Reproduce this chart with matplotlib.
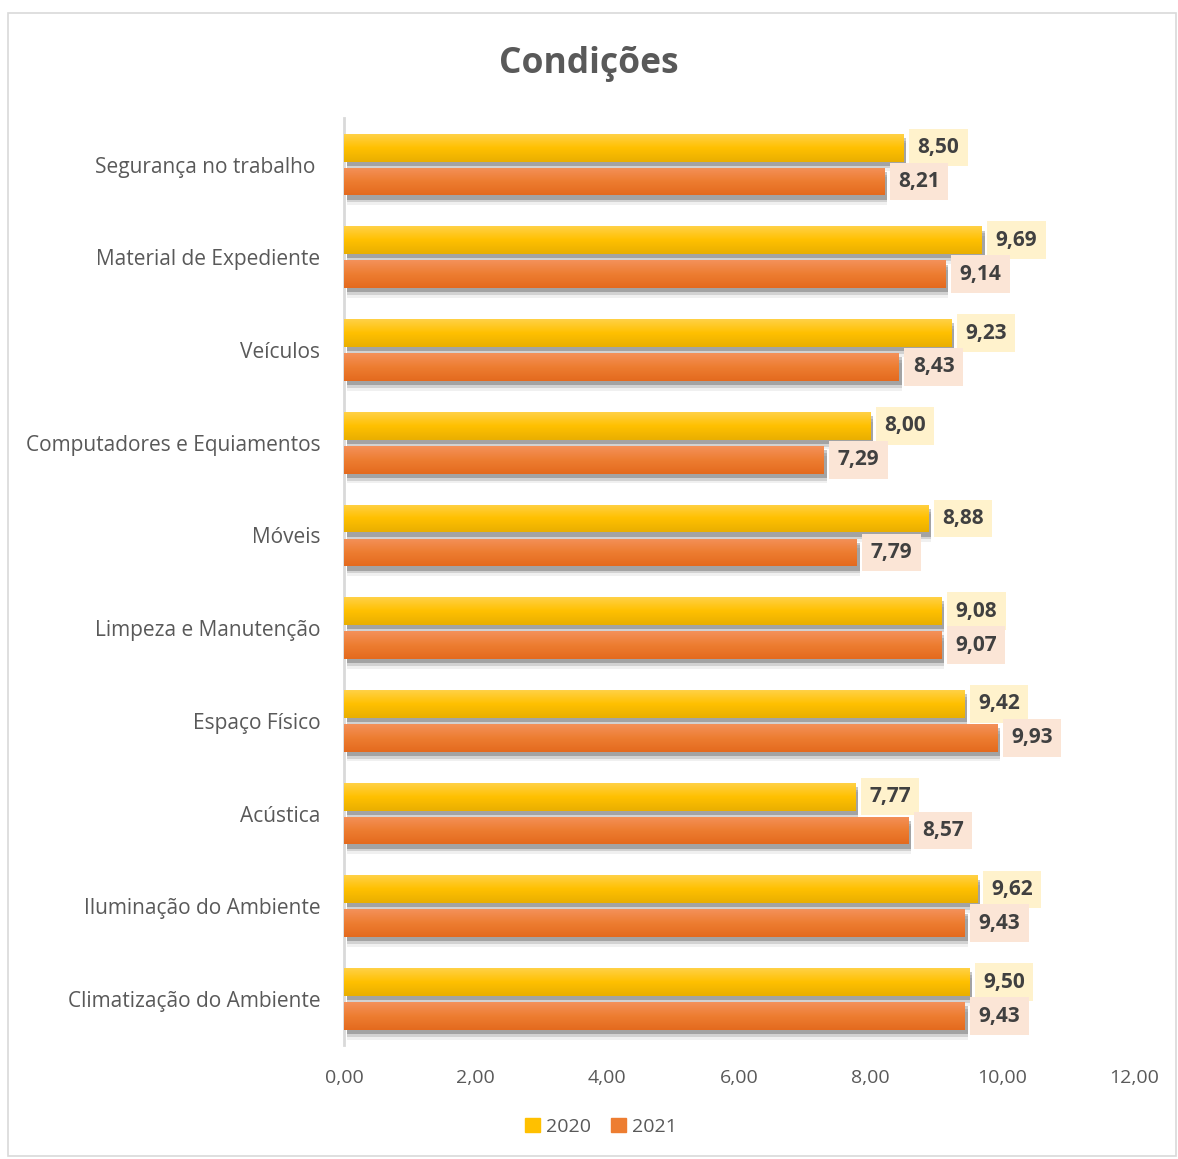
import numpy as np
import matplotlib.pyplot as plt
import matplotlib.patheffects as pe
from matplotlib.colors import LinearSegmentedColormap
from matplotlib.patches import Patch

plt.rcParams['font.family'] = ['Open Sans', 'DejaVu Sans']

# data
categorias = ['Segurança no trabalho ', 'Material de Expediente', 'Veículos',
              'Computadores e Equiamentos', 'Móveis', 'Limpeza e Manutenção',
              'Espaço Físico', 'Acústica', 'Iluminação do Ambiente',
              'Climatização do Ambiente']
v2020 = [8.50, 9.69, 9.23, 8.00, 8.88, 9.08, 9.42, 7.77, 9.62, 9.50]
v2021 = [8.21, 9.14, 8.43, 7.29, 7.79, 9.07, 9.93, 8.57, 9.43, 9.43]
anos = ['2020', '2021']
xticks = [0, 2, 4, 6, 8, 10, 12]

cor = {'2020': '#FFC000', '2021': '#ED7D31'}
grad = {'2020': ['#FFD146', '#FFC000', '#E9AF00'],
        '2021': ['#F4915A', '#ED7D31', '#E46A1E']}
caixa = {'2020': '#FFF2CC', '2021': '#FBE5D6'}

fig = plt.figure(figsize=(11.78, 11.59), dpi=100)
ax = fig.add_axes([0.292, 0.098, 0.6706, 0.8])

y = np.arange(len(categorias))
h = 0.30
off = 0.183
# soft drop shadow under the bars
shadow = [pe.SimplePatchShadow(offset=(2, -7), shadow_rgbFace='#000000', alpha=0.06),
          pe.SimplePatchShadow(offset=(2, -5), shadow_rgbFace='#000000', alpha=0.12),
          pe.SimplePatchShadow(offset=(2, -3), shadow_rgbFace='#000000', alpha=0.22),
          pe.Normal()]

for ano, vals, dy in [('2020', v2020, -off), ('2021', v2021, off)]:
    bars = ax.barh(y + dy, vals, height=h, color=cor[ano],
                   path_effects=shadow, zorder=2)
    cmap = LinearSegmentedColormap.from_list(ano, grad[ano])
    g = np.linspace(0, 1, 64).reshape(-1, 1)
    for b, v in zip(bars, vals):
        x0, y0 = b.get_x(), b.get_y()
        im = ax.imshow(g, cmap=cmap, aspect='auto', zorder=3,
                       extent=[x0, x0 + b.get_width(), y0 + b.get_height(), y0])
        im.set_clip_path(b)
        ax.annotate(f'{v:.2f}'.replace('.', ','), (v, b.get_y() + b.get_height() / 2),
                    xytext=(10, 0), textcoords='offset points', va='center', ha='left',
                    fontsize=15, fontweight='bold', color='#404040', zorder=4,
                    bbox=dict(boxstyle='square,pad=0.4', fc=caixa[ano], ec='none'))

ax.set_xlim(0, 12)
ax.set_ylim(len(categorias) - 0.5, -0.5)
ax.set_yticks(y)
ax.set_yticklabels(categorias)
ax.set_xticks(xticks)
ax.set_xticklabels([f'{t:.2f}'.replace('.', ',') for t in xticks])
ax.tick_params(axis='both', length=0, labelcolor='#595959')
ax.tick_params(axis='y', pad=17, labelsize=15)
ax.tick_params(axis='x', pad=17, labelsize=14)
for s in ['top', 'right', 'bottom']:
    ax.spines[s].set_visible(False)
ax.spines['left'].set_color('#D9D9D9')
ax.spines['left'].set_linewidth(2)

fig.suptitle('Condições', y=0.96, fontsize=25.5, fontweight='bold', color='#595959')

handles = [Patch(color=cor[a], label=a) for a in anos]
leg = fig.legend(handles=handles, loc='lower center', bbox_to_anchor=(0.51, 0.005), ncol=2,
                 frameon=False, fontsize=14, handlelength=0.8, handleheight=0.8,
                 handletextpad=0.3, columnspacing=1.0)
for t in leg.get_texts():
    t.set_color('#595959')

fig.patches.append(plt.Rectangle((0.007, 0.003), 0.991, 0.986, transform=fig.transFigure,
                                 fill=False, ec='#D9D9D9', lw=1.2))

fig.savefig('out.png', dpi=100)
